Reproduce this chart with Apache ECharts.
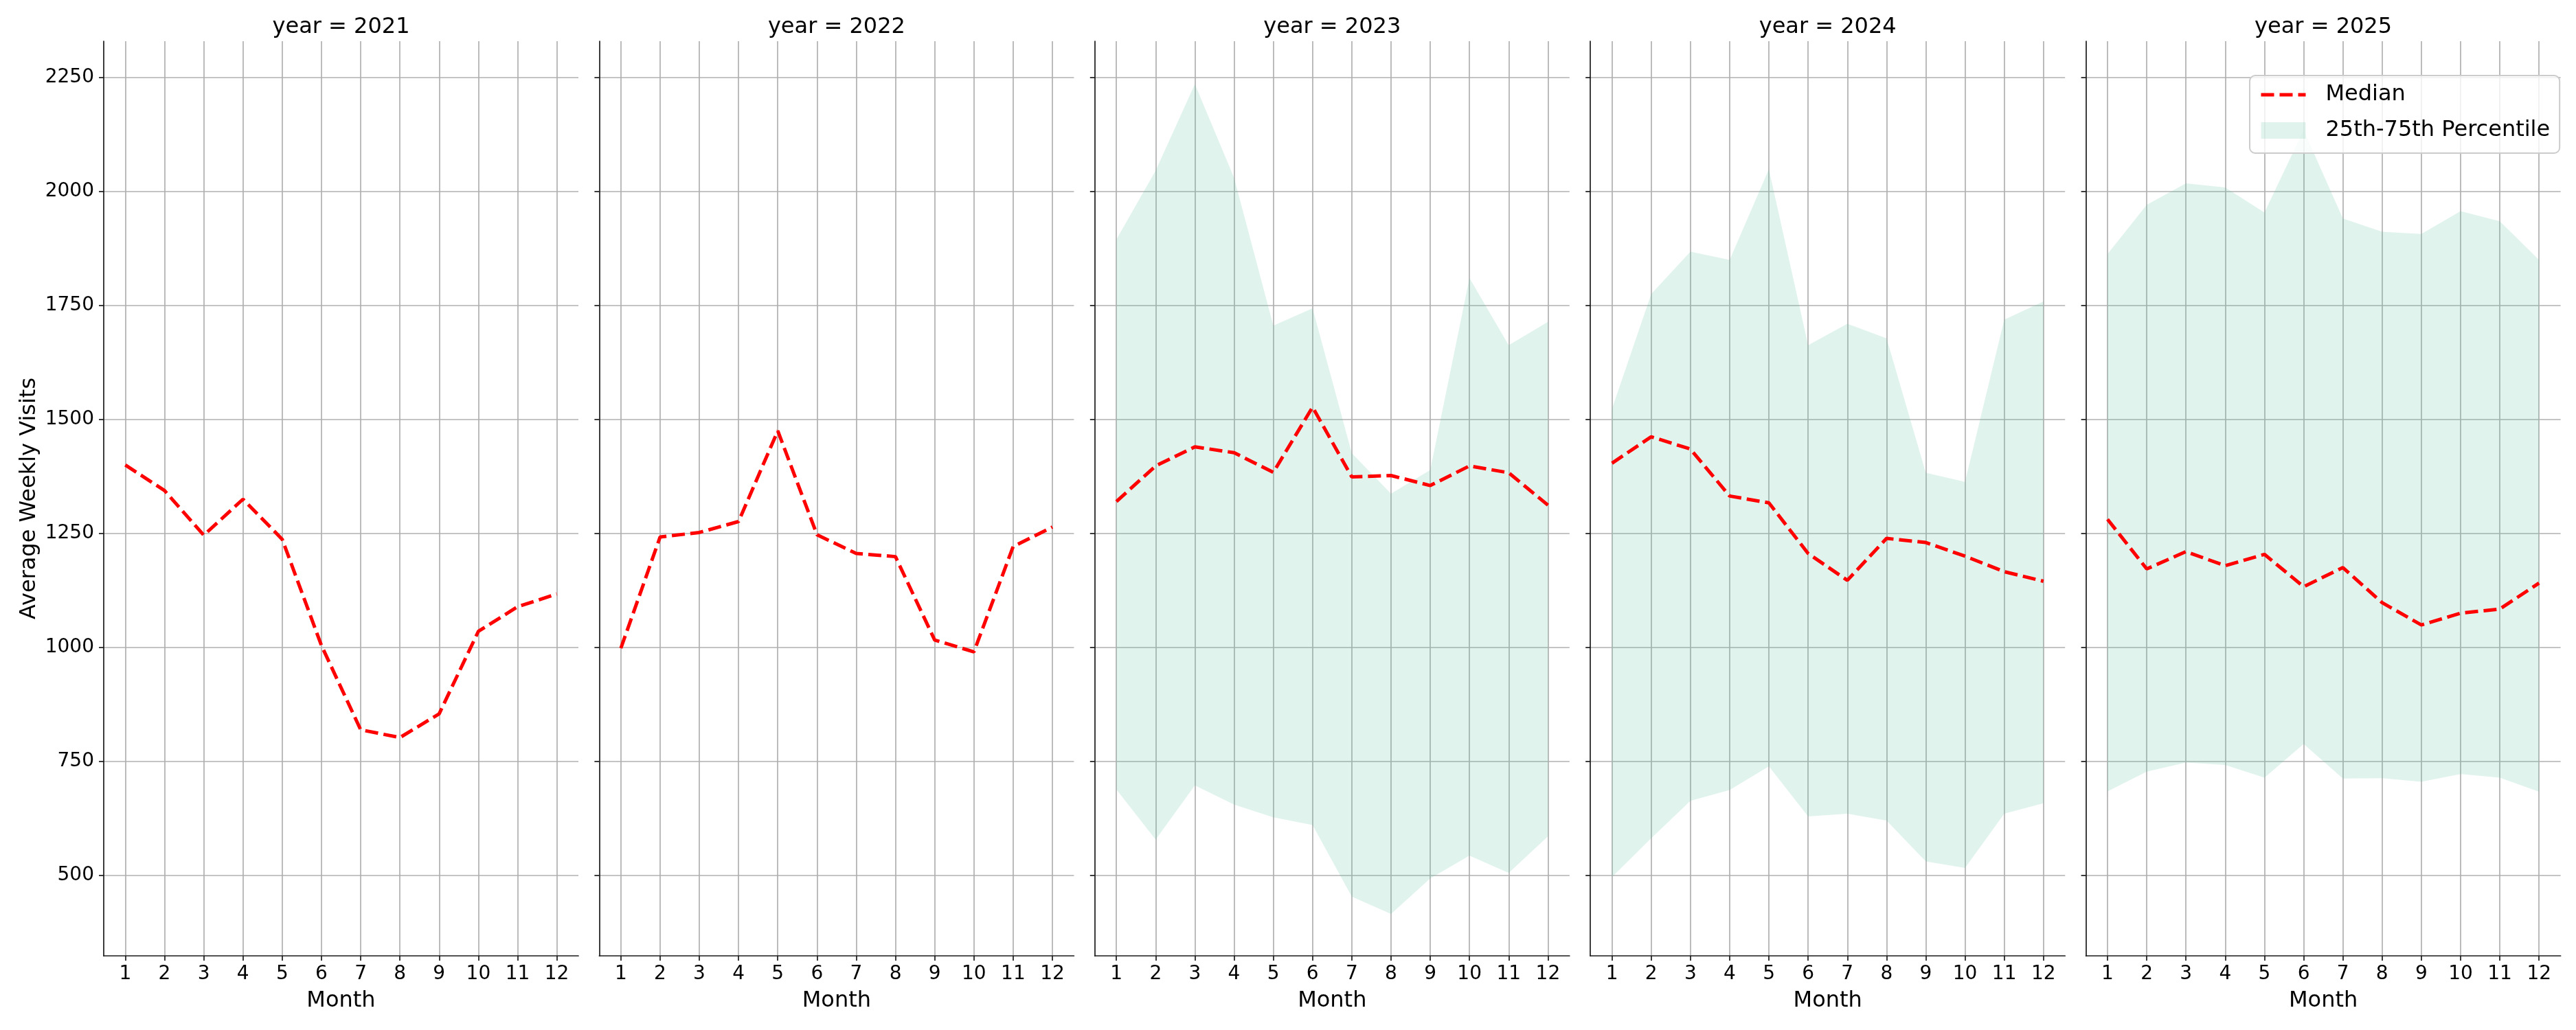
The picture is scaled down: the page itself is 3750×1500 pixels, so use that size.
<!DOCTYPE html>
<html>
<head>
<meta charset="utf-8">
<title>Average Weekly Visits by Month</title>
<script src="https://cdn.jsdelivr.net/npm/echarts@6/dist/echarts.min.js"></script>
<style>
  html, body { margin: 0; padding: 0; background: #fff; }
  #chart { width: 3750px; height: 1500px; }
</style>
</head>
<body>
<div id="chart"></div>
<script>
// data
var MONTHS = [1, 2, 3, 4, 5, 6, 7, 8, 9, 10, 11, 12];
var YEARS = [2021, 2022, 2023, 2024, 2025];
var Y_TICKS = [500, 750, 1000, 1250, 1500, 1750, 2000, 2250];

var MEDIAN_2021 = [1400, 1344, 1246, 1325, 1237, 1004, 819, 802, 854, 1035, 1089, 1117];
var MEDIAN_2022 = [998, 1242, 1252, 1276, 1475, 1247, 1206, 1199, 1016, 990, 1221, 1264];
var MEDIAN_2023 = [1320, 1398, 1440, 1427, 1384, 1527, 1374, 1377, 1355, 1398, 1383, 1312];
var MEDIAN_2024 = [1404, 1462, 1435, 1332, 1317, 1206, 1147, 1239, 1230, 1200, 1166, 1145];
var MEDIAN_2025 = [1281, 1172, 1210, 1179, 1204, 1133, 1175, 1098, 1049, 1075, 1084, 1141];

var LOWER_2023 = [688, 578, 697, 655, 627, 610, 453, 415, 493, 543, 505, 585];
var UPPER_2023 = [1895, 2046, 2236, 2030, 1706, 1744, 1426, 1337, 1389, 1810, 1663, 1714];
var LOWER_2024 = [496, 581, 663, 687, 739, 629, 635, 620, 530, 516, 635, 658];
var UPPER_2024 = [1523, 1775, 1868, 1850, 2049, 1663, 1710, 1678, 1383, 1363, 1719, 1759];
var LOWER_2025 = [684, 727, 747, 742, 714, 788, 712, 713, 705, 722, 714, 683];
var UPPER_2025 = [1863, 1971, 2018, 2009, 1954, 2135, 1941, 1912, 1907, 1957, 1935, 1850];

var MEDIANS = [MEDIAN_2021, MEDIAN_2022, MEDIAN_2023, MEDIAN_2024, MEDIAN_2025];
var LOWERS = [null, null, LOWER_2023, LOWER_2024, LOWER_2025];
var UPPERS = [null, null, UPPER_2023, UPPER_2024, UPPER_2025];

var FONT = 'DejaVu Sans';
var BAND_COLOR = 'rgba(102,194,165,0.2)';
var LEFT0 = 151, STEP = 721.4, PW = 691, TOP = 60, PH = 1332;
var MEDIAN_LINE = { color: '#ff0000', width: 5, type: [19, 8], cap: 'butt' };

var chart = echarts.init(document.getElementById('chart'), null, { renderer: 'canvas' });

function pairs(values) {
    return MONTHS.map(function (m, k) { return [m, values[k]]; });
}

// whole band as one polygon, drawn once per panel
function bandItem(lo, hi) {
    return function (params, api) {
        if (params.dataIndex !== 0) return null;
        var pts = [];
        for (var k = 0; k < MONTHS.length; k++) pts.push(api.coord([MONTHS[k], hi[k]]));
        for (var j = MONTHS.length - 1; j >= 0; j--) pts.push(api.coord([MONTHS[j], lo[j]]));
        return { type: 'polygon', shape: { points: pts }, style: { fill: BAND_COLOR } };
    };
}

var grids = [], xAxes = [], yAxes = [], titles = [], series = [];
var axisLine = { show: true, lineStyle: { color: '#1a1a1a', width: 1.7 } };
var grid = { show: true, lineStyle: { color: '#b0b0b0', width: 1.7 } };

YEARS.forEach(function (year, i) {
    var left = LEFT0 + i * STEP;
    grids.push({ left: left, top: TOP, width: PW, height: PH });

    titles.push({
        text: 'year = ' + year,
        left: left + PW / 2,
        top: 24,
        textAlign: 'center',
        padding: 0,
        textStyle: { fontFamily: FONT, fontSize: 32, fontWeight: 'normal', color: '#000', lineHeight: 32 }
    });

    xAxes.push({
        type: 'value',
        gridIndex: i,
        min: 0.45,
        max: 12.55,
        name: 'Month',
        nameLocation: 'middle',
        nameGap: 50,
        nameTextStyle: { fontFamily: FONT, fontSize: 32, color: '#000' },
        axisLine: axisLine,
        axisTick: { show: true, length: 7, lineStyle: { color: '#1a1a1a', width: 1.7 }, customValues: MONTHS },
        axisLabel: { customValues: MONTHS, fontFamily: FONT, fontSize: 28, color: '#000', margin: 13 },
        splitLine: grid
    });

    yAxes.push({
        type: 'value',
        gridIndex: i,
        min: 323,
        max: 2330,
        name: i === 0 ? 'Average Weekly Visits' : '',
        nameLocation: 'middle',
        nameGap: 92,
        nameTextStyle: { fontFamily: FONT, fontSize: 32, color: '#000' },
        axisLine: axisLine,
        axisTick: { show: true, length: 7, lineStyle: { color: '#1a1a1a', width: 1.7 }, customValues: Y_TICKS },
        axisLabel: {
            show: i === 0,
            customValues: Y_TICKS,
            formatter: function (v) { return String(v); },
            fontFamily: FONT, fontSize: 28, color: '#000', margin: 14
        },
        splitLine: grid
    });

    if (LOWERS[i]) {
        series.push({
            name: '25th-75th Percentile',
            type: 'custom',
            xAxisIndex: i,
            yAxisIndex: i,
            itemStyle: { color: BAND_COLOR },
            encode: { x: 0, y: [1, 2] },
            data: MONTHS.map(function (m, k) { return [m, LOWERS[i][k], UPPERS[i][k]]; }),
            renderItem: bandItem(LOWERS[i], UPPERS[i]),
            silent: true,
            z: 1
        });
    }

    series.push({
        name: 'Median',
        type: 'line',
        xAxisIndex: i,
        yAxisIndex: i,
        data: pairs(MEDIANS[i]),
        symbol: 'none',
        itemStyle: { color: '#ff0000' },
        lineStyle: MEDIAN_LINE,
        silent: true,
        z: 3
    });
});

chart.setOption({
    animation: false,
    backgroundColor: '#fff',
    title: titles,
    grid: grids,
    xAxis: xAxes,
    yAxis: yAxes,
    legend: {
        orient: 'vertical',
        left: 3275,
        top: 110,
        padding: [12, 14, 17, 14],
        itemWidth: 65,
        itemHeight: 24,
        itemGap: 20,
        backgroundColor: 'rgba(255,255,255,0.8)',
        borderColor: '#cccccc',
        borderWidth: 2,
        borderRadius: 8,
        textStyle: { fontFamily: FONT, fontSize: 32, color: '#000', lineHeight: 32, padding: [0, 0, 0, 24] },
        data: [
            { name: 'Median', itemStyle: { opacity: 0 }, lineStyle: MEDIAN_LINE },
            { name: '25th-75th Percentile', icon: 'rect' }
        ]
    },
    series: series
});
</script>
</body>
</html>
